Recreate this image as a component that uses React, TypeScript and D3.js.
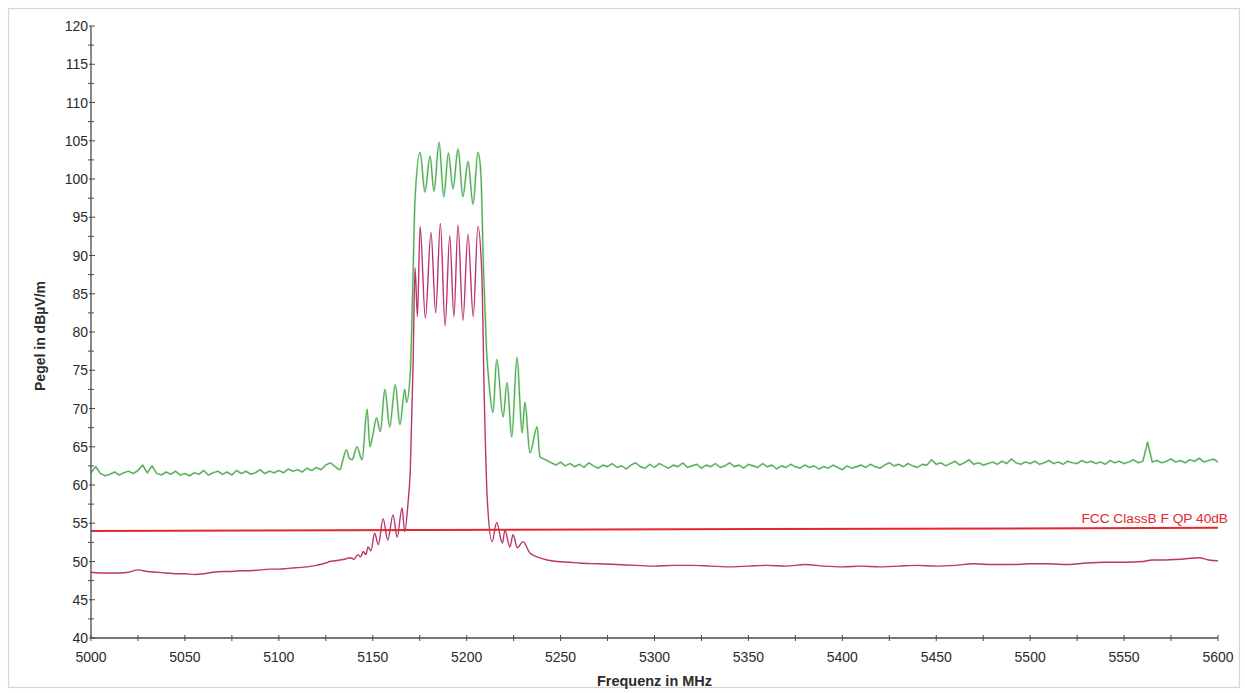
import React from "react";
import * as d3 from "d3";

const W = 1245;
const H = 693;

// Axis ticks
const xMajorTicks = [5000, 5050, 5100, 5150, 5200, 5250, 5300, 5350, 5400, 5450, 5500, 5550, 5600];
const xMinorTicks = [5025, 5075, 5125, 5175, 5225, 5275, 5325, 5375, 5425, 5475, 5525, 5575];
const yMajorTicks = [40, 45, 50, 55, 60, 65, 70, 75, 80, 85, 90, 95, 100, 105, 110, 115, 120];
const yMinorTicks = [42.5, 47.5, 52.5, 57.5, 62.5, 67.5, 72.5, 77.5, 82.5, 87.5, 92.5, 97.5, 102.5, 107.5, 112.5, 117.5];

// Peak trace (green): noise floor left of the band, sampled 5000 .. 5127.5 MHz
const greenFloorLeft = [
  61.6, 62.4, 61.5, 61.2, 61.4, 61.7, 61.3, 61.6, 61.8, 61.5,
  61.9, 62.6, 61.6, 62.5, 61.5, 61.3, 61.7, 61.4, 61.8, 61.3,
  61.5, 61.2, 61.6, 61.4, 61.9, 61.3, 61.6, 61.8, 61.4, 61.7,
  61.3, 61.9, 61.5, 61.8, 61.4, 61.6, 62.0, 61.5, 61.8, 61.6,
  61.9, 61.6, 62.1, 61.8, 62.0, 61.7, 62.2, 61.9, 62.3, 62.0,
  62.6, 62.9,
];

// Peak trace (green): the emission band
const greenBand: [number, number][] = [
  [5127.5, 62.9], [5130, 62.4], [5132.6, 62.0], [5134, 63.2], [5136, 64.6], [5137.5, 63.5], [5139, 63.3],
  [5141.6, 65.0], [5144.3, 63.3], [5147, 69.9], [5148.5, 65.0], [5150, 66.5], [5152, 68.8],
  [5154, 67.0], [5156.5, 72.5], [5159, 67.6], [5162, 73.1], [5164.5, 67.9], [5167, 72.5],
  [5168, 70.8], [5170, 74.7], [5171.3, 86.0], [5172.5, 97.3], [5175.2, 103.5], [5177.8, 98.3],
  [5180.5, 103.0], [5182.6, 98.4], [5185.3, 104.8], [5187.8, 97.7], [5190.3, 103.4],
  [5192.7, 98.7], [5195.4, 103.9], [5198, 97.7], [5200.7, 102.3], [5203.4, 96.7],
  [5206, 103.5], [5207.5, 101.0], [5209, 88.0], [5210.5, 78.0], [5212, 73.0], [5214, 69.5],
  [5216, 76.4], [5219.4, 68.9], [5221.5, 73.4], [5224, 66.3], [5226.8, 76.7], [5229.5, 66.8],
  [5231, 70.8], [5233.7, 64.2], [5237.5, 67.6], [5239, 63.7], [5242, 63.3], [5245, 62.9],
];

// Peak trace (green): noise floor right of the band, sampled 5245 .. 5600 MHz
const greenFloorRight = [
  62.9, 62.6, 63.0, 62.5, 62.8, 62.4, 62.7, 62.3, 62.9, 62.5,
  62.2, 62.6, 62.4, 62.8, 62.3, 62.5, 62.1, 62.6, 62.9, 62.4,
  62.2, 62.7, 62.3, 62.8, 62.5, 62.2, 62.6, 62.4, 62.9, 62.3,
  62.5, 62.7, 62.2, 62.6, 62.4, 62.8, 62.3, 62.5, 62.9, 62.4,
  62.6, 62.2, 62.7, 62.5, 62.3, 62.8, 62.4, 62.6, 62.1, 62.5,
  62.3, 62.7, 62.4, 62.2, 62.6, 62.3, 62.5, 62.1, 62.4, 62.2,
  62.6, 62.3, 62.0, 62.5, 62.2, 62.4, 62.6, 62.3, 62.7, 62.4,
  62.2, 62.6, 62.9, 62.5, 62.7, 62.4, 62.8, 62.5, 62.3, 62.7,
  62.6, 63.3, 62.7, 62.9, 62.5, 62.8, 63.1, 62.6, 62.9, 63.3,
  62.7, 62.9, 62.6, 62.8, 63.0, 62.7, 63.1, 62.8, 63.4, 62.9,
  62.7, 63.0, 62.8, 63.1, 62.7, 62.9, 63.2, 62.8, 63.0, 62.7,
  63.1, 62.9, 62.8, 63.2, 62.9, 63.1, 62.8, 63.0, 62.7, 63.2,
  62.9, 63.1, 62.8, 63.0, 63.3, 62.9, 63.1, 65.6, 63.0, 63.2,
  62.9, 63.1, 63.4, 63.0, 63.2, 62.9, 63.3, 63.1, 63.5, 63.0,
  63.2, 63.4, 63.0,
];

// Quasi-peak / average trace (magenta)
const magentaTrace: [number, number][] = [
  [5000, 48.6], [5005, 48.5], [5010, 48.5], [5015, 48.5], [5020, 48.6], [5025, 48.9],
  [5030, 48.7], [5035, 48.6], [5040, 48.5], [5045, 48.4], [5050, 48.4], [5055, 48.3],
  [5060, 48.4], [5065, 48.6], [5070, 48.7], [5075, 48.7], [5080, 48.8], [5085, 48.8],
  [5090, 48.9], [5095, 49.0], [5100, 49.0], [5105, 49.1], [5110, 49.2], [5115, 49.3],
  [5120, 49.5], [5125, 49.8], [5127, 50.0], [5130, 50.1], [5132.6, 50.2], [5135, 50.3],
  [5138, 50.5], [5140, 50.3], [5142, 50.9], [5143.5, 50.6], [5145, 51.3], [5146.3, 50.9],
  [5147.5, 51.9], [5149, 51.4], [5151, 53.7], [5153, 52.2], [5155.5, 55.6], [5158, 52.8],
  [5160.8, 56.1], [5163, 53.2], [5165.6, 57.0], [5167, 53.9], [5168.8, 57.7], [5170, 62.0],
  [5171.5, 76.0], [5172.5, 88.4], [5173.8, 82.0], [5175.2, 93.8], [5178, 81.8],
  [5181, 93.0], [5183.5, 82.5], [5186, 94.2], [5188.5, 80.8], [5191, 92.6], [5193.2, 82.0],
  [5195.4, 94.0], [5198, 81.5], [5200.7, 92.8], [5203.5, 82.0], [5206, 93.8], [5208, 88.0],
  [5209.5, 70.0], [5211, 58.0], [5213.5, 52.6], [5216, 55.1], [5219, 52.4], [5220.4, 54.1],
  [5223, 51.9], [5224.7, 53.5], [5227, 51.8], [5230, 52.6], [5233.7, 51.1], [5237.5, 50.6],
  [5242.8, 50.2], [5248, 50.0], [5255, 49.9], [5260, 49.8], [5270, 49.7], [5280, 49.6],
  [5290, 49.5], [5300, 49.4], [5310, 49.5], [5320, 49.5], [5330, 49.4], [5340, 49.3],
  [5350, 49.4], [5360, 49.5], [5370, 49.4], [5380, 49.6], [5390, 49.4], [5400, 49.3],
  [5410, 49.4], [5420, 49.3], [5430, 49.4], [5440, 49.5], [5450, 49.4], [5460, 49.5],
  [5470, 49.7], [5480, 49.6], [5490, 49.6], [5500, 49.7], [5510, 49.7], [5520, 49.6],
  [5530, 49.8], [5540, 49.9], [5550, 49.9], [5560, 50.0], [5565, 50.2], [5570, 50.2],
  [5580, 50.3], [5590, 50.5], [5595, 50.2], [5600, 50.1],
];

// Limit line
const limitLine: [number, number][] = [[5000, 54.0], [5600, 54.4]];
const limitLabel = "FCC ClassB F QP 40dB";

const xTitle = "Frequenz in MHz";
const yTitle = "Pegel in dBµV/m";

function spread(start: number, end: number, vals: number[]): [number, number][] {
  return vals.map((v, i) => [start + ((end - start) * i) / (vals.length - 1), v]);
}

const greenLeft = spread(5000, 5127.5, greenFloorLeft);
const greenRight = spread(5245, 5600, greenFloorRight);

export default function App() {
  const left = 91;
  const right = 1218;
  const top = 26;
  const bottom = 638;

  const x = d3.scaleLinear().domain([5000, 5600]).range([left, right]);
  const y = d3.scaleLinear().domain([40, 120]).range([bottom, top]);

  const smooth = d3
    .line<[number, number]>()
    .x((d) => x(d[0]))
    .y((d) => y(d[1]))
    .curve(d3.curveMonotoneX);
  const straight = d3
    .line<[number, number]>()
    .x((d) => x(d[0]))
    .y((d) => y(d[1]));

  const greenPaths = [straight(greenLeft) || "", smooth(greenBand) || "", straight(greenRight) || ""];

  const font = "'Liberation Sans', Arial, Helvetica, sans-serif";
  const axisColor = "#4a4a4a";
  const textColor = "#2b2b2b";

  return (
    <svg
      width={W}
      height={H}
      viewBox={`0 0 ${W} ${H}`}
      style={{ position: "absolute", left: 0, top: 0, background: "#ffffff" }}
      fontFamily={font}
    >
      <rect x={8.5} y={8.5} width={1231} height={679} fill="#ffffff" stroke="#d6d6d6" strokeWidth={1.2} />

      {/* traces */}
      {greenPaths.map((d, i) => (
        <path key={`gh${i}`} d={d} fill="none" stroke="#a9dfd6" strokeWidth={2.2} strokeOpacity={0.8} strokeLinejoin="round" />
      ))}
      {greenPaths.map((d, i) => (
        <path key={`g${i}`} d={d} fill="none" stroke="#55a832" strokeWidth={1.1} strokeLinejoin="round" />
      ))}
      <path d={smooth(magentaTrace) || ""} fill="none" stroke="#bb3570" strokeWidth={1.4} />
      <path d={straight(limitLine) || ""} fill="none" stroke="#e3272b" strokeWidth={2} />
      <text x={x(5600) + 10} y={y(54.4) - 5} textAnchor="end" fontSize={13.7} fill="#e3272b">
        {limitLabel}
      </text>

      {/* y axis */}
      <line x1={left} x2={left} y1={y(120)} y2={bottom} stroke={axisColor} strokeWidth={1.3} />
      {yMajorTicks.map((t) => (
        <g key={`ym${t}`}>
          <line x1={left - 2} x2={left + 4} y1={y(t)} y2={y(t)} stroke={axisColor} strokeWidth={1} />
          <text x={left - 3} y={y(t)} dy="0.36em" textAnchor="end" fontSize={14} fill={textColor}>
            {t}
          </text>
        </g>
      ))}
      {yMinorTicks.map((t) => (
        <line key={`yn${t}`} x1={left - 3} x2={left + 3} y1={y(t)} y2={y(t)} stroke={axisColor} strokeWidth={1} />
      ))}

      {/* x axis */}
      <line x1={left} x2={right} y1={bottom} y2={bottom} stroke={axisColor} strokeWidth={1.3} />
      {xMajorTicks.map((t) => (
        <g key={`xm${t}`}>
          <line x1={x(t)} x2={x(t)} y1={bottom - 3} y2={bottom + 3} stroke={axisColor} strokeWidth={1} />
          <text x={x(t)} y={bottom + 24} textAnchor="middle" fontSize={14} fill={textColor}>
            {t}
          </text>
        </g>
      ))}
      {xMinorTicks.map((t) => (
        <line key={`xn${t}`} x1={x(t)} x2={x(t)} y1={bottom - 3} y2={bottom + 3} stroke={axisColor} strokeWidth={1} />
      ))}

      {/* titles */}
      <text x={(left + right) / 2} y={686} textAnchor="middle" fontSize={14.5} fontWeight="bold" fill={textColor}>
        {xTitle}
      </text>
      <text transform={`translate(45, 336) rotate(-90)`} textAnchor="middle" fontSize={14} fontWeight="bold" fill={textColor}>
        {yTitle}
      </text>
    </svg>
  );
}
